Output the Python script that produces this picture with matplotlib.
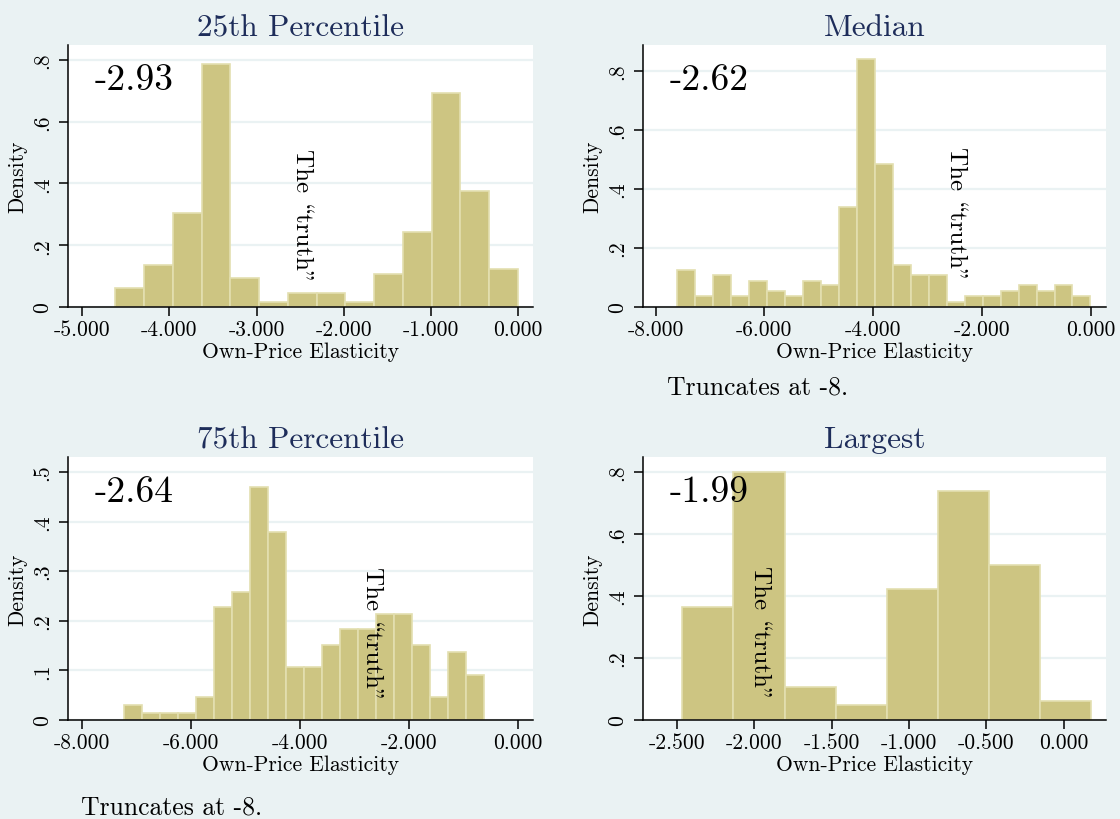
import matplotlib
matplotlib.use("Agg")
import matplotlib.pyplot as plt
import numpy as np

plt.rcParams['font.family'] = ['cmr10', 'DejaVu Serif']
plt.rcParams['axes.unicode_minus'] = False

BG = '#eaf2f3'
BAR = '#cdc582'
BAR_EDGE = '#e3dfb0'
TITLE = '#1e2d5a'

titles = ["25th Percentile", "Median", "75th Percentile", "Largest"]
means = ["-2.93", "-2.62", "-2.64", "-1.99"]

# histogram bins: first edge, bin width, densities
start_25 = -4.62
width_25 = 0.33
dens_25 = [0.061, 0.137, 0.304, 0.786, 0.094, 0.016, 0.046, 0.046, 0.016,
           0.107, 0.244, 0.694, 0.377, 0.123]

start_med = -7.60
width_med = 0.33
dens_med = [0.124, 0.036, 0.107, 0.036, 0.088, 0.054, 0.036, 0.088, 0.073,
            0.339, 0.839, 0.483, 0.142, 0.108, 0.108, 0.018, 0.036, 0.036,
            0.054, 0.073, 0.054, 0.073, 0.036]

start_75 = -7.24
width_75 = 0.3305
dens_75 = [0.030, 0.015, 0.015, 0.015, 0.047, 0.227, 0.258, 0.470, 0.379,
           0.107, 0.107, 0.152, 0.183, 0.183, 0.213, 0.213, 0.152, 0.047,
           0.137, 0.091]

start_max = -2.463
width_max = 0.330
dens_max = [0.364, 0.800, 0.107, 0.047, 0.424, 0.739, 0.499, 0.060]

xticks_25 = [-5, -4, -3, -2, -1, 0]
xticks_8 = [-8, -6, -4, -2, 0]
xticks_max = [-2.5, -2.0, -1.5, -1.0, -0.5, 0.0]
yticks_8 = [0, 0.2, 0.4, 0.6, 0.8]
yticks_5 = [0, 0.1, 0.2, 0.3, 0.4, 0.5]

# "The truth" label positions (data coords)
truth_xy = [(-2.475, 0.30), (-2.48, 0.32), (-2.68, 0.176), (-1.963, 0.285)]
# cmr10 keeps TeX's OT1 layout: backslash slot is the opening quote, " the closing one
truth_txt = "The \\truth\""

panels = [
    dict(start=start_25, width=width_25, dens=dens_25, xticks=xticks_25,
         yticks=yticks_8, xlim=(-5.164, 0.172), ylim=(0, 0.848),
         rect=(68, 533, 46, 308), note=None),
    dict(start=start_med, width=width_med, dens=dens_med, xticks=xticks_8,
         yticks=yticks_8, xlim=(-8.23, 0.276), ylim=(0, 0.888),
         rect=(643, 1106, 46, 308), note=(0.052, -0.305)),
    dict(start=start_75, width=width_75, dens=dens_75, xticks=xticks_8,
         yticks=yticks_5, xlim=(-8.263, 0.276), ylim=(0, 0.53),
         rect=(68, 533, 458, 721), note=(0.028, -0.33)),
    dict(start=start_max, width=width_max, dens=dens_max, xticks=xticks_max,
         yticks=yticks_8, xlim=(-2.717, 0.272), ylim=(0, 0.848),
         rect=(643, 1106, 458, 721), note=None),
]

W, H = 1120, 820
fig = plt.figure(figsize=(W / 100, H / 100), dpi=100)
fig.patch.set_facecolor(BG)


def fmt_y(v):
    if v == 0:
        return "0"
    return ("%.1f" % v).lstrip("0")


for i, p in enumerate(panels):
    l, r, t, b = p['rect']
    ax = fig.add_axes([l / W, 1 - b / H, (r - l) / W, (b - t) / H])
    ax.set_facecolor('white')

    n = len(p['dens'])
    lefts = p['start'] + p['width'] * np.arange(n)
    ax.bar(lefts, p['dens'], width=p['width'], align='edge', color=BAR,
           edgecolor=BAR_EDGE, linewidth=1.2, zorder=2)

    ax.set_xlim(*p['xlim'])
    ax.set_ylim(*p['ylim'])
    ax.set_xticks(p['xticks'])
    ax.set_xticklabels(["%.3f" % v for v in p['xticks']])
    ax.set_yticks(p['yticks'])
    ax.set_yticklabels([fmt_y(v) for v in p['yticks']], rotation=90, va='center')

    ax.yaxis.grid(True, color=BG, linewidth=1.6, zorder=0)
    ax.set_axisbelow(True)
    for s in ['top', 'right']:
        ax.spines[s].set_visible(False)
    for s in ['left', 'bottom']:
        ax.spines[s].set_linewidth(1.1)
    ax.tick_params(axis='both', length=6.5, width=1.1, labelsize=15.5)
    ax.tick_params(axis='x', pad=2.5)
    ax.tick_params(axis='y', pad=5)

    ax.set_xlabel("Own-Price Elasticity", fontsize=15.5, labelpad=2)
    ax.set_ylabel("Density", fontsize=15.5, labelpad=4)
    ax.set_title(titles[i], fontsize=22.5, color=TITLE, pad=7)

    ax.text(0.058, 0.87, means[i], transform=ax.transAxes, fontsize=27,
            ha='left', va='center', zorder=5)
    tx, ty = truth_xy[i]
    ax.text(tx, ty, truth_txt, rotation=-90, fontsize=18,
            ha='center', va='center', zorder=5)

    if p['note'] is not None:
        ax.text(p['note'][0], p['note'][1], "Truncates at -8.",
                transform=ax.transAxes, fontsize=18.5, ha='left', va='center')

fig.savefig("out.png", dpi=100, facecolor=BG)
